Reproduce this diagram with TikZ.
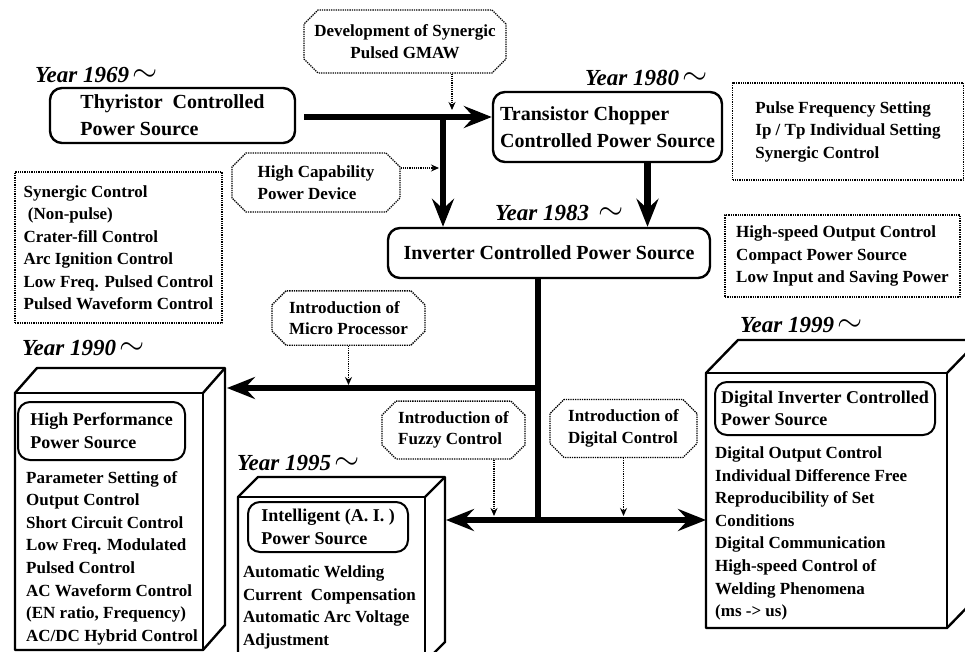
\documentclass[tikz,border=0pt]{standalone}
\usepackage{fontspec}
\setmainfont{Liberation Serif}
\usetikzlibrary{arrows.meta,shapes.misc,positioning}

\tikzset{
  mainbox/.style={draw, line width=2.4pt, rounded corners=12pt, align=left,
    font=\bfseries\fontsize{20}{27}\selectfont},
  namebox/.style={draw, line width=2pt, rounded corners=12pt, align=left,
    font=\bfseries\fontsize{18}{22.5}\selectfont},
  infobox/.style={draw, densely dotted, line width=1.3pt, align=left,
    font=\bfseries\fontsize{17}{22.5}\selectfont},
  notebox/.style={chamfered rectangle, chamfered rectangle xsep=7pt, chamfered rectangle ysep=7pt,
    draw, densely dotted, line width=1.3pt, align=left,
    font=\bfseries\fontsize{17}{21.5}\selectfont},
  listtext/.style={anchor=north west, inner sep=0pt, align=left,
    font=\bfseries\fontsize{17}{22.6}\selectfont},
  yeartext/.style={anchor=west, inner sep=0pt, font=\bfseries\itshape\fontsize{23}{24}\selectfont},
  flow/.style={line width=6.5pt, -{Stealth[length=28pt,width=22pt,inset=10pt]}},
  hint/.style={densely dotted, line width=1.2pt, -{Stealth[length=8pt,width=7pt]}},
  cube/.style={line width=2.4pt}
}
\newcommand{\since}{\,\raisebox{1pt}{\scalebox{1.3}{$\sim$}}}

\begin{document}
\begin{tikzpicture}[x=1pt, y=-1pt, line join=round]
  \useasboundingbox[fill=white] (0,0) rectangle (965,652);

  % boxes drawn as cuboids
  \foreach \xa/\ya/\xb/\yb/\dx/\dy in {15/393/203/650/22/-25, 238/497/425/662/20/-20, 706/373/947/628/32/-33}{
    \draw[cube, fill=white] (\xa,\ya) -- ++(\dx,\dy) -- ({\xb+\dx},{\ya+\dy}) -- ({\xb+\dx},{\yb+\dy}) -- (\xb,\yb) -- (\xa,\yb) -- cycle;
    \draw[cube] (\xa,\ya) -- (\xb,\ya) -- (\xb,\yb);
    \draw[cube] (\xb,\ya) -- ++(\dx,\dy);
  }

  % year labels
  \node[yeartext] (y69) at (35,75) {Year 1969\since};
  \node[yeartext] (y80) at (585,78) {Year 1980\since};
  \node[yeartext] (y83) at (495,213) {Year 1983\ \since};
  \node[yeartext] (y90) at (22,348) {Year 1990\since};
  \node[yeartext] (y95) at (237,463) {Year 1995\since};
  \node[yeartext] (y99) at (740,325) {Year 1999\since};

  % power sources
  \node[mainbox, minimum width=245pt, minimum height=55pt] (thy) at (172.5,115.5)
    {Thyristor\ \ Controlled\\Power Source};
  \node[mainbox, minimum width=229pt, minimum height=70pt, inner xsep=0pt] (tra) at (607.5,127)
    {Transistor Chopper\\Controlled Power Source};
  \node[mainbox, minimum width=322pt, minimum height=50pt, align=center] (inv) at (549,253)
    {Inverter Controlled Power Source};
  \node[namebox, minimum width=167pt, minimum height=58pt] (hp) at (101.5,431)
    {High Performance\\Power Source};
  \node[namebox, minimum width=160pt, minimum height=50pt] (ai) at (328,527)
    {Intelligent (A. I. )\\Power Source};
  \node[namebox, minimum width=220pt, minimum height=53pt] (di) at (825,408.5)
    {Digital Inverter Controlled\\Power Source};

  % features
  \node[infobox, minimum width=207pt, minimum height=151pt] (syn) at (118.5,247.5)
    {Synergic Control\\\ (Non-pulse)\\Crater-fill Control\\Arc Ignition Control\\Low Freq. Pulsed Control\\Pulsed Waveform Control};
  \node[infobox, minimum width=231pt, minimum height=97pt] (pulse) at (848,131.5)
    {Pulse Frequency Setting\\Ip / Tp Individual Setting\\Synergic Control};
  \node[infobox, minimum width=235pt, minimum height=82pt] (speed) at (842.5,256)
    {High-speed Output Control\\Compact Power Source\\Low Input and Saving Power};
  \node[listtext] (hplist) at (26,471)
    {Parameter Setting of\\Output Control\\Short Circuit Control\\Low Freq. Modulated\\Pulsed Control\\AC Waveform Control\\(EN ratio, Frequency)\\AC/DC Hybrid Control};
  \node[listtext] (ailist) at (243,565.5)
    {Automatic Welding\\Current\ \ Compensation\\Automatic Arc Voltage\\Adjustment};
  \node[listtext] (dilist) at (715,446.5)
    {Digital Output Control\\Individual Difference Free\\Reproducibility of Set\\Conditions\\Digital Communication\\High-speed Control of\\Welding Phenomena\\(ms -> us)};

  % technologies
  \node[notebox, minimum width=200pt, minimum height=63pt, align=center] (dev) at (405,41.5)
    {Development of Synergic\\Pulsed GMAW};
  \node[notebox, minimum width=168pt, minimum height=59pt] (cap) at (316,182.5)
    {High Capability\\Power Device};
  \node[notebox, minimum width=153pt, minimum height=50pt] (micro) at (348.5,318)
    {Introduction of\\Micro Processor};
  \node[notebox, minimum width=143pt, minimum height=50pt] (fuzzy) at (453.5,430)
    {Introduction of\\Fuzzy Control};
  \node[notebox, minimum width=147pt, minimum height=57pt] (digi) at (623.5,428.5)
    {Introduction of\\Digital Control};

  % junctions
  \coordinate (j1) at (443,117);
  \coordinate (j3) at (538,388);
  \coordinate (j4) at (538,520);
  \coordinate (hpside) at (227,388);
  \coordinate (aiside) at (446,520);
  \coordinate (diside) at (706,520);
  \coordinate (m1) at (452,110);
  \coordinate (m2) at (439,168);
  \coordinate (m3) at (494,516);

  % evolution
  \draw[flow, shorten <=8pt] (thy.east |- j1) -- (j1 -| tra.west);
  \draw[flow] (j1) -- (j1 |- inv.north);
  \draw[flow] ([xshift=40pt]tra.south) -- ([xshift=40pt]tra.south |- inv.north);
  \draw[line width=6.5pt] (inv.south -| j4) -- (j4);
  \draw[flow] ([xshift=3pt]j3) -- (hpside);
  \draw[flow] ([xshift=3pt]j4) -- (aiside);
  \draw[flow] ([xshift=-3pt]j4) -- (diside);

  % influences
  \draw[hint] (dev.south -| m1) -- (m1);
  \draw[hint] (cap.east |- m2) -- (m2);
  \draw[hint, shorten >=3pt] (micro.south) -- (micro.south |- j3);
  \draw[hint] (fuzzy.south -| m3) -- (m3);
  \draw[hint, shorten >=4pt] (digi.south) -- (digi.south |- j4);
\end{tikzpicture}
\end{document}
